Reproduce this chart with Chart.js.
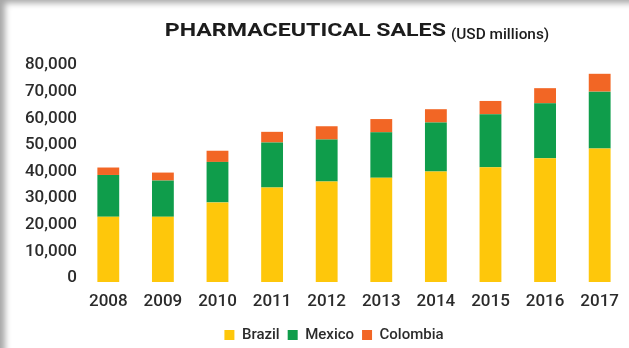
<!DOCTYPE html>
<html>
<head>
<meta charset="utf-8">
<title>Pharmaceutical sales</title>
<script src="https://cdn.jsdelivr.net/npm/chart.js@4.4.1/dist/chart.umd.min.js"></script>
<style>
  html, body { margin: 0; padding: 0; background: #fff; }
  #wrap { position: relative; width: 629px; height: 348px; overflow: hidden; background: #fff; }
  #wrap canvas { position: absolute; left: 0; top: 0; }
  #frame {
    position: absolute; left: 0; top: 0; width: 629px; height: 348px;
    pointer-events: none;
    box-shadow: inset 8px 6px 6px -3px rgba(0, 0, 0, 0.35);
  }
</style>
</head>
<body>
<div id="wrap">
  <canvas id="sales" width="629" height="348"></canvas>
  <div id="frame"></div>
</div>
<script>
// Sales by country, USD millions
const years    = ['2008', '2009', '2010', '2011', '2012', '2013', '2014', '2015', '2016', '2017'];
const brazil   = [24500, 24500, 29900, 35500, 37700, 39200, 41500, 43100, 46500, 50100];
const mexico   = [15700, 13600, 15200, 16900, 15800, 17000, 18400, 19900, 20600, 21400];
const colombia = [2800, 3000, 4200, 4000, 5000, 5000, 5000, 5000, 5700, 6700];

const yMin = 0;
const yMax = 80000;
const yStep = 10000;

const headingText = 'PHARMACEUTICAL SALES';
const unitText = '(USD millions)';

const inkDark = '#1c1c1c';
const inkAxis = '#2b2b2b';

// Heading drawn above the plot: a wide bold title followed by the unit note
const headingPlugin = {
  id: 'salesHeading',
  afterDraw(chart) {
    const ctx = chart.ctx;
    const area = chart.chartArea;
    ctx.save();
    ctx.fillStyle = inkDark;
    ctx.textBaseline = 'alphabetic';
    ctx.textAlign = 'left';

    const mainFont = '700 19px Roboto';
    const unitFont = '500 14px Roboto';
    const mainStretch = 1.22;
    const unitStretch = 1.1;
    const gap = 5;

    ctx.font = mainFont;
    const mainW = ctx.measureText(headingText).width * mainStretch;
    ctx.font = unitFont;
    const unitW = ctx.measureText(unitText).width * unitStretch;

    const centre = (area.left + area.right) / 2 + 3;
    const x0 = centre - (mainW + gap + unitW) / 2;

    ctx.save();
    ctx.translate(x0, 36);
    ctx.scale(mainStretch, 1);
    ctx.font = mainFont;
    ctx.fillText(headingText, 0, 0);
    ctx.restore();

    ctx.save();
    ctx.translate(x0 + mainW + gap, 38.5);
    ctx.scale(unitStretch, 1);
    ctx.font = unitFont;
    ctx.fillText(unitText, 0, 0);
    ctx.restore();

    ctx.restore();
  }
};

// Places the legend row under the plot, slightly left of the plot centre
const legendPlacement = {
  id: 'legendPlacement',
  afterLayout(chart) {
    const lg = chart.legend;
    if (!lg) return;
    const pad = lg.options.labels.padding;
    const size = lg.options.labels.font.size;
    const dx = 334 - (lg.left + lg.right) / 2;
    const dy = 335 - (lg.top + pad + size / 2);
    lg.left += dx; lg.right += dx;
    lg.top += dy; lg.bottom += dy;
  }
};

Chart.defaults.font.family = 'Roboto, "Noto Sans", sans-serif';
Chart.defaults.color = inkAxis;

new Chart(document.getElementById('sales'), {
  type: 'bar',
  data: {
    labels: years,
    datasets: [
      { label: 'Brazil',   data: brazil,   backgroundColor: '#FEC70B' },
      { label: 'Mexico',   data: mexico,   backgroundColor: '#0F9D4B' },
      { label: 'Colombia', data: colombia, backgroundColor: '#F26625' }
    ]
  },
  options: {
    responsive: false,
    animation: false,
    devicePixelRatio: 1,
    layout: { padding: { top: 69, left: 0, right: 0, bottom: 0 } },
    datasets: {
      bar: { barPercentage: 0.4, categoryPercentage: 1.0, borderWidth: 0 }
    },
    scales: {
      x: {
        stacked: true,
        grid: { display: false, drawTicks: false },
        border: { display: false },
        ticks: { font: { size: 17, weight: '500' }, color: inkAxis, padding: 10, maxRotation: 0 },
        afterFit(scale) { scale.height = 33; }
      },
      y: {
        stacked: true,
        min: yMin,
        max: yMax,
        grid: { display: false, drawTicks: false },
        border: { display: false },
        ticks: {
          stepSize: yStep,
          font: { size: 17, weight: '500' },
          color: inkAxis,
          padding: 4,
          labelOffset: -4,
          callback: (v) => Number(v).toLocaleString('en-US')
        },
        afterFit(scale) { scale.width = 81; }
      }
    },
    plugins: {
      title: { display: false },
      tooltip: { enabled: false },
      legend: {
        position: 'bottom',
        labels: {
          boxWidth: 10,
          boxHeight: 10,
          padding: 8,
          color: inkAxis,
          font: { size: 15, weight: '500' }
        }
      }
    }
  },
  plugins: [headingPlugin, legendPlacement]
});
</script>
</body>
</html>
